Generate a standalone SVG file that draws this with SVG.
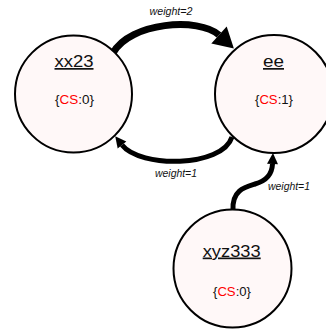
<svg xmlns="http://www.w3.org/2000/svg" width="326" height="331" viewBox="0 0 326 331">
  <style>
    .state { fill: #fff8f8; stroke: #000; stroke-width: 2; }
    .name { font-family: "Liberation Sans", Arial, sans-serif; font-size: 17px; fill: #111; text-anchor: middle; text-decoration: underline; }
    .attr { font-family: "Liberation Sans", Arial, sans-serif; font-size: 12.5px; fill: #111; text-anchor: middle; }
    .key { fill: #ff0000; }
    .edge { fill: none; stroke: #000; stroke-linecap: butt; }
    .w2 { stroke-width: 7; }
    .w1 { stroke-width: 5; }
    .weight { font-family: "Liberation Sans", Arial, sans-serif; font-size: 10.5px; font-style: italic; fill: #111; text-anchor: middle; }
  </style>
  <defs>
    <marker id="head-big" markerUnits="userSpaceOnUse" markerWidth="24" markerHeight="24" refX="0" refY="0" orient="auto" overflow="visible">
      <path d="M0,-11.5 L20,0 L0,11.5 Z" fill="#000"/>
    </marker>
    <marker id="head-small" markerUnits="userSpaceOnUse" markerWidth="12" markerHeight="12" refX="0" refY="0" orient="auto" overflow="visible">
      <path d="M0,-5.5 L11,0 L0,5.5 Z" fill="#000"/>
    </marker>
  </defs>

  <g id="connectors">
    <path class="edge w2" d="M113,53 C130,22 199,17 219,35" marker-end="url(#head-big)"/>
    <path class="edge w1" d="M232,137 C222,168 140,168 122,145" marker-end="url(#head-small)"/>
    <path class="edge w1" d="M233,210 C232,190 245,187 255,184 C266,181 272,175 272.5,164" marker-end="url(#head-small)"/>
    <text class="weight" x="171" y="15" textLength="43" lengthAdjust="spacingAndGlyphs">weight=2</text>
    <text class="weight" x="176" y="177" textLength="42" lengthAdjust="spacingAndGlyphs">weight=1</text>
    <text class="weight" x="289" y="190" textLength="42" lengthAdjust="spacingAndGlyphs">weight=1</text>
  </g>

  <g id="node-xx23">
    <circle class="state" cx="73.5" cy="94" r="58.5"/>
    <text class="name" x="74" y="67" textLength="39" lengthAdjust="spacingAndGlyphs">xx23</text>
    <text class="attr" x="74.5" y="104" textLength="39" lengthAdjust="spacingAndGlyphs">{<tspan class="key">CS</tspan>:0}</text>
  </g>

  <g id="node-ee">
    <circle class="state" cx="274" cy="94" r="59"/>
    <text class="name" x="273.5" y="67" textLength="21" lengthAdjust="spacingAndGlyphs">ee</text>
    <text class="attr" x="274" y="104" textLength="38" lengthAdjust="spacingAndGlyphs">{<tspan class="key">CS</tspan>:1}</text>
  </g>

  <g id="node-xyz333">
    <circle class="state" cx="232.5" cy="268.5" r="59"/>
    <text class="name" x="231.7" y="256.5" textLength="58" lengthAdjust="spacingAndGlyphs">xyz333</text>
    <text class="attr" x="232" y="296" textLength="38" lengthAdjust="spacingAndGlyphs">{<tspan class="key">CS</tspan>:0}</text>
  </g>
</svg>
